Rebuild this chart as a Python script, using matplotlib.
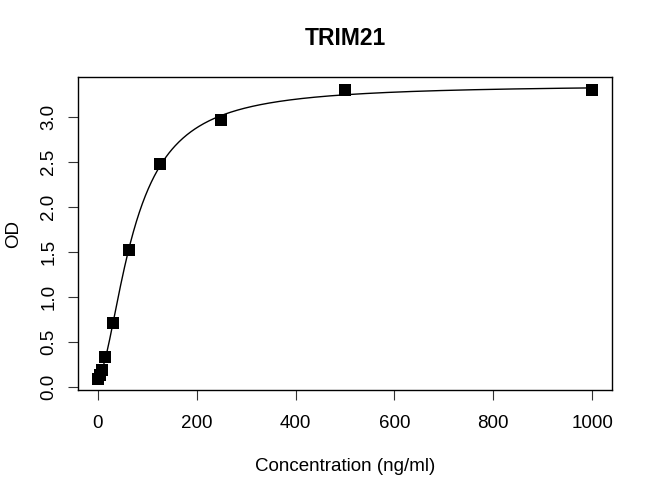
import numpy as np
import matplotlib
matplotlib.use("Agg")
import matplotlib.pyplot as plt

# standard curve points
conc = np.array([0, 3.9, 7.8, 15.6, 31.25, 62.5, 125, 250, 500, 1000])
od = np.array([0.09, 0.13, 0.19, 0.33, 0.71, 1.52, 2.48, 2.97, 3.30, 3.31])

x_ticks = [0, 200, 400, 600, 800, 1000]
y_ticks = [0.0, 0.5, 1.0, 1.5, 2.0, 2.5, 3.0]


def four_pl(x, p):
    a, b, c, d = p
    return d + (a - d) / (1 + (np.abs(x) / c) ** b)


# 4 parameter logistic fit, simple Gauss-Newton (no scipy here)
p = np.array([od.min(), 1.5, 80.0, od.max()])
for it in range(200):
    r = od - four_pl(conc, p)
    J = np.zeros((len(conc), 4))
    for k in range(4):
        dp = np.zeros(4)
        dp[k] = 1e-6 * max(abs(p[k]), 1.0)
        J[:, k] = (four_pl(conc, p + dp) - four_pl(conc, p)) / dp[k]
    step = np.linalg.lstsq(J, r, rcond=None)[0]
    p = p + 0.5 * step
    p[2] = max(p[2], 1.0)

xs = np.linspace(0, conc.max(), 500)

plt.rcParams['font.family'] = ['Liberation Sans', 'DejaVu Sans']

fig = plt.figure(figsize=(6.5, 4.88), dpi=100)
ax = fig.add_axes([0.12, 0.2008, 0.8215, 0.6413])

ax.plot(xs, four_pl(xs, p), color='black', lw=1.0)
ax.plot(conc, od, 's', color='black', ms=8, mew=0)

ax.set_xlim(-40, 1040)
ax.set_ylim(-0.037, 3.449)
ax.set_xticks(x_ticks)
ax.set_yticks(y_ticks)
ax.set_xticklabels([str(v) for v in x_ticks])
ax.set_yticklabels(['%.1f' % v for v in y_ticks], rotation=90, va='center')
ax.tick_params(axis='both', length=7, width=0.8, labelsize=13.5, color='#333333')
ax.tick_params(axis='x', pad=11)
ax.tick_params(axis='y', pad=8)

for s in ax.spines.values():
    s.set_linewidth(1.0)

ax.set_xlabel('Concentration (ng/ml)', fontsize=13.5, labelpad=19)
ax.set_ylabel('OD', fontsize=13.5, labelpad=13)
ax.set_title('TRIM21', fontsize=16.5, fontweight='bold', pad=23)

fig.savefig('out.png', dpi=100)
